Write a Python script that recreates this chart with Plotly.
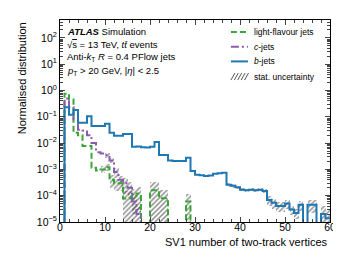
import plotly.graph_objects as go

# ---------------- data (bins of width 1, from 0 to 60) ----------------
bin_edges = list(range(0, 61))

light_jets = [0, 0.75, 0.45, 0.025, 0.02, 0.0078, 0.0078, 0.00115, 0.0009, 0.001,
              0.0012, 4e-4, 3e-4, 3e-4, 7.8e-5, 7.8e-5, 1.0e-4, 1.2e-4, 0, 0,
              1.6e-4, 1.6e-4, 8e-5, 8e-5, 0, 0, 0, 0, 6e-5, 0,
              0, 0, 0, 0, 0, 0, 0, 0, 0, 0,
              0, 0, 0, 0, 0, 0, 0, 0, 0, 0,
              0, 0, 0, 0, 0, 0, 0, 0, 0, 0]

c_jets = [0, 0.5, 0.23, 0.08, 0.032, 0.03, 0.02, 0.01, 0.0045, 0.004,
          0.0035, 0.0022, 8e-4, 4e-4, 3e-4, 2e-4, 6e-5, 2e-5, 0, 0,
          0, 0, 0, 0, 0, 0, 0, 0, 0, 0,
          0, 0, 0, 0, 0, 0, 0, 0, 0, 0,
          0, 0, 0, 0, 0, 0, 0, 0, 0, 0,
          0, 0, 0, 0, 0, 0, 0, 0, 0, 0]

b_jets = [0, 0.23, 0.12, 0.18, 0.06, 0.06, 0.105, 0.045, 0.045, 0.045,
          0.054, 0.025, 0.019, 0.019, 0.022, 0.022, 0.0072, 0.0075, 0.007, 0.0068,
          0.0072, 0.011, 0.0035, 0.0035, 0.0022, 0.0021, 0.0021, 0.0021, 0.0028, 0.00087,
          0.00062, 0.0006, 0.00056, 0.00058, 0.00068, 0.00072, 0.00075, 0.00026, 0.00024, 0.00021,
          0.00017, 0.00016, 0.00017, 0.00016, 0.00017, 0.00015, 6.9e-5, 5.4e-5, 4.1e-5, 4.1e-5,
          5.0e-5, 3.0e-5, 2.2e-5, 4.5e-5, 0, 4.5e-5, 4.5e-5, 0, 2.0e-5, 1.4e-5]

# relative statistical uncertainty per bin
light_err = [0, 0, 0, 0, 0, 0, 0, 0, 0, 0.3,
             0.3, 0.5, 0.5, 0.5, 1.0, 1.0, 0.8, 0.8, 0, 0,
             1.0, 1.0, 1.0, 1.0, 0, 0, 0, 0, 1.0, 0,
             0, 0, 0, 0, 0, 0, 0, 0, 0, 0,
             0, 0, 0, 0, 0, 0, 0, 0, 0, 0,
             0, 0, 0, 0, 0, 0, 0, 0, 0, 0]

c_err = [0, 0, 0, 0, 0, 0, 0, 0, 0, 0,
         0.2, 0.2, 0.4, 0.4, 0.6, 0.6, 1.0, 1.0, 0, 0,
         0, 0, 0, 0, 0, 0, 0, 0, 0, 0,
         0, 0, 0, 0, 0, 0, 0, 0, 0, 0,
         0, 0, 0, 0, 0, 0, 0, 0, 0, 0,
         0, 0, 0, 0, 0, 0, 0, 0, 0, 0]

b_err = [0, 0, 0, 0, 0, 0, 0, 0, 0, 0,
         0, 0, 0, 0, 0, 0, 0, 0, 0, 0,
         0, 0, 0, 0, 0, 0, 0, 0, 0, 0,
         0, 0, 0, 0, 0, 0, 0, 0.15, 0.15, 0.15,
         0.15, 0.15, 0.15, 0.15, 0.15, 0.15, 0.4, 0.4, 0.4, 0.4,
         0.4, 0.4, 0.4, 0.4, 0, 0.5, 0.5, 0, 1.0, 1.0]

y_tick_vals = [1e-5, 1e-4, 1e-3, 1e-2, 1e-1, 1, 10, 100]
y_tick_text = ["10<sup>−5</sup>", "10<sup>−4</sup>", "10<sup>−3</sup>", "10<sup>−2</sup>",
               "10<sup>−1</sup>", "10<sup>0</sup>", "10<sup>1</sup>", "10<sup>2</sup>"]

series_names = ["light-flavour jets", "<i>c</i>-jets", "<i>b</i>-jets"]
unc_name = "stat. uncertainty"
x_title = "SV1 number of two-track vertices"
y_title = "Normalised distribution"

# ---------------- style ----------------
FONT = '"Liberation Sans", Arial, sans-serif'
GREEN = "#3aa63a"
PURPLE = "#8a5cae"
BLUE = "#1f77b4"
HATCH = "#2a2a2a"
FLOOR = 1e-9
PLOT_W, PLOT_H = 270, 202


def step_xy(vals):
    x = [bin_edges[0]] + bin_edges
    y = [FLOOR] + [v if v > 0 else FLOOR for v in vals]
    y = y + [y[-1]]
    return x, y


def band(vals, errs):
    xs, bases, heights = [], [], []
    for i, (v, r) in enumerate(zip(vals, errs)):
        if v > 0 and r > 0:
            lo = v * (1 - r) if r < 1 else FLOOR
            hi = v * (1 + r)
            xs.append((bin_edges[i] + bin_edges[i + 1]) / 2)
            bases.append(lo)
            heights.append(hi - lo)
    return xs, bases, heights


fig = go.Figure()

for vals, errs in [(light_jets, light_err), (c_jets, c_err), (b_jets, b_err)]:
    xs, bases, heights = band(vals, errs)
    fig.add_trace(go.Bar(
        x=xs, y=heights, base=bases, width=1,
        name=unc_name, showlegend=False,
        marker=dict(color="rgba(0,0,0,0)", line=dict(width=0),
                    pattern=dict(shape="/", fgcolor=HATCH, bgcolor="rgba(0,0,0,0)",
                                 size=3.5, solidity=0.45)),
        hoverinfo="skip",
    ))

styles = [(light_jets, GREEN, "6px,3px"), (c_jets, PURPLE, "8px,3px,2px,3px"),
          (b_jets, BLUE, "solid")]
for (vals, col, dash), name in zip(styles, series_names):
    x, y = step_xy(vals)
    fig.add_trace(go.Scatter(
        x=x, y=y, mode="lines", line=dict(shape="hv", color=col, width=2, dash=dash),
        name=name, showlegend=False,
    ))

fig.update_layout(
    width=341, height=256,
    margin=dict(l=52, r=19, t=12, b=42),
    paper_bgcolor="white", plot_bgcolor="white",
    barmode="overlay", bargap=0,
    font=dict(family=FONT, size=11, color="black"),
    showlegend=False,
)

fig.update_xaxes(
    range=[0, 60], tick0=0, dtick=10, ticks="inside", ticklen=5, tickwidth=1,
    minor=dict(ticks="inside", dtick=2, ticklen=3, tickwidth=1, showgrid=False),
    showline=True, linecolor="black", linewidth=1, mirror="allticks",
    showgrid=False, zeroline=False, tickfont=dict(family=FONT, size=10.5),
    ticklabelstandoff=-5,
)
fig.update_yaxes(
    type="log", range=[-5, 2.68], tickmode="array",
    tickvals=y_tick_vals, ticktext=y_tick_text,
    ticks="inside", ticklen=5, tickwidth=1,
    minor=dict(ticks="inside", dtick="D1", ticklen=3, tickwidth=1, showgrid=False),
    showline=True, linecolor="black", linewidth=1, mirror="allticks",
    showgrid=False, zeroline=False, tickfont=dict(family=FONT, size=10.5),
)

# axis titles (ATLAS style: right/top aligned)
fig.add_annotation(text=x_title, xref="paper", yref="paper", x=1.0, y=-0.097,
                   xanchor="right", yanchor="middle", showarrow=False,
                   font=dict(family=FONT, size=11))
fig.add_annotation(text=y_title, xref="paper", yref="paper", x=-0.14, y=1.0,
                   xanchor="center", yanchor="top", textangle=-90, showarrow=False,
                   font=dict(family=FONT, size=11))

# labels
labels = [
    ("<b><i>ATLAS</i></b> Simulation", 0.941),
    ("√<span style='text-decoration:overline'>s</span> = 13 TeV, <i>tt̄</i> events", 0.878),
    ("Anti-<i>k</i><sub>T</sub> <i>R</i> = 0.4 PFlow jets", 0.815),
    ("<i>p</i><sub>T</sub> > 20 GeV, |<i>η</i>| < 2.5", 0.749),
]
for txt, yy in labels:
    fig.add_annotation(text=txt, xref="paper", yref="paper", x=0.02, y=yy,
                       xanchor="left", yanchor="middle", showarrow=False,
                       font=dict(family=FONT, size=9.5))

# ---------------- legend (drawn in paper coordinates) ----------------
leg_x0, leg_x1, leg_tx = 0.633, 0.696, 0.712
leg_rows = [0.941, 0.868, 0.795, 0.720]
leg_items = [(series_names[0], GREEN, "6px,3px"), (series_names[1], PURPLE, "8px,3px,2px,3px"),
             (series_names[2], BLUE, "solid")]
for (name, col, dash), yy in zip(leg_items, leg_rows[:3]):
    fig.add_shape(type="line", xref="paper", yref="paper", x0=leg_x0, x1=leg_x1,
                  y0=yy, y1=yy, line=dict(color=col, width=2, dash=dash))
    fig.add_annotation(text=name, xref="paper", yref="paper", x=leg_tx, y=yy,
                       xanchor="left", yanchor="middle", showarrow=False,
                       font=dict(family=FONT, size=8.5))
# hatch symbol for the uncertainty entry
yy = leg_rows[3]
half_h = 3.5 / PLOT_H
step = 3.4 / PLOT_W
slant = 4.0 / PLOT_W
for k in range(5):
    xs0 = leg_x0 + k * step
    fig.add_shape(type="line", xref="paper", yref="paper",
                  x0=xs0, x1=xs0 + slant, y0=yy - half_h, y1=yy + half_h,
                  line=dict(color=HATCH, width=0.8))
fig.add_annotation(text=unc_name, xref="paper", yref="paper", x=leg_tx, y=yy,
                   xanchor="left", yanchor="middle", showarrow=False,
                   font=dict(family=FONT, size=8.5))

fig.write_html("out.html")
